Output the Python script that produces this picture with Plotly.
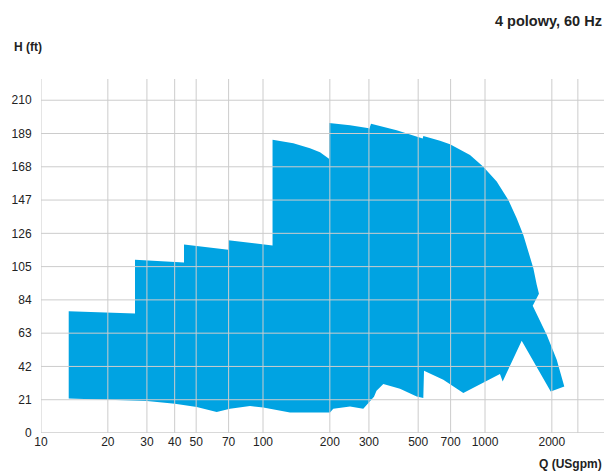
import plotly.graph_objects as go

# Outline of the performance range: upper/right edge (left to right)
Q_upper = [13.33, 26.51, 26.51, 44.07, 44.07, 69.8, 69.8, 110.4, 110.4, 136.9, 162.8, 180.6,
           198.3, 198.3, 246.6, 300.3, 300.3, 306.6, 400, 524, 527.4, 627, 695.6, 855.8,
           982.4, 1129, 1274, 1389, 1488, 1567, 1651, 1710, 1750, 1640, 1896, 2104, 2276]
H_upper = [76.9, 75.4, 109.3, 107.6, 118.9, 115.6, 121.7, 118.3, 185.0, 182.9, 179.7, 177.2,
           173.0, 195.7, 194.2, 192.3, 191.6, 195.2, 191.1, 185.8, 187.5, 184.5, 182.2, 175.5,
           168.1, 158.7, 147.1, 135.6, 125.0, 114.5, 104.0, 93.5, 87.8, 80.3, 62.0, 46.2, 29.3]
# lower edge (left to right)
Q_lower = [13.33, 20.1, 30.0, 40.1, 50.3, 61.85, 71.0, 87.4, 100.3, 132.3, 200.3, 207.3,
           246.6, 282.9, 316.2, 324.6, 348.3, 414, 492.4, 527.4, 531.2, 649, 798.6, 1168,
           1201, 1463, 1977]
H_lower = [21.8, 21.2, 20.2, 18.5, 16.4, 13.2, 15.3, 17.0, 16.1, 13.0, 13.0, 15.3,
           16.8, 15.3, 22.9, 26.7, 30.9, 28.0, 23.1, 22.1, 39.3, 33.6, 25.2, 37.2,
           32.5, 58.2, 26.2]

x_ticks = [10, 20, 30, 40, 50, 70, 100, 200, 300, 500, 700, 1000, 2000]
x_extra_grid = [2620]
y_ticks = [0, 21, 42, 63, 84, 105, 126, 147, 168, 189, 210]

title_text = "4 polowy, 60 Hz"
y_title = "H (ft)"
x_title = "Q (USgpm)"

BLUE = "rgb(0,163,226)"
GRID = "rgb(204,204,204)"
FONT = "Liberation Sans, Arial, sans-serif"
Y_TOP = 223.4
X_RANGE = [1, 3.536]

W, H = 606, 472
L, R, T, B = 41, 2, 79, 472 - 433.3
PW, PH = W - L - R, H - T - B


def px_x(page_x):
    return (page_x - L) / PW


def px_y(page_y):
    return (H - B - page_y) / PH


poly_x = Q_upper + Q_lower[::-1]
poly_y = H_upper + H_lower[::-1]

fig = go.Figure()
fig.add_trace(go.Scatter(x=poly_x, y=poly_y, fill="toself", fillcolor=BLUE,
                         mode="lines", line=dict(width=0, color=BLUE),
                         hoverinfo="skip", showlegend=False))

shapes = []
for v in x_ticks + x_extra_grid:
    shapes.append(dict(type="line", xref="x", yref="y", x0=v, x1=v, y0=0, y1=Y_TOP,
                       line=dict(color=GRID, width=1), layer="above"))
for v in y_ticks[1:]:
    shapes.append(dict(type="line", xref="paper", yref="y", x0=0, x1=1, y0=v, y1=v,
                       line=dict(color=GRID, width=1), layer="above"))
shapes.append(dict(type="line", xref="paper", yref="y", x0=0, x1=1, y0=0, y1=0,
                   line=dict(color=GRID, width=1.5), layer="above"))

fig.update_layout(
    width=W, height=H,
    margin=dict(l=L, r=R, t=T, b=B, autoexpand=False),
    paper_bgcolor="white", plot_bgcolor="white",
    font=dict(family=FONT, size=12, color="#222222"),
    shapes=shapes,
    showlegend=False,
    xaxis=dict(type="log", range=X_RANGE, tickvals=x_ticks,
               ticktext=[str(v) for v in x_ticks], showgrid=False, zeroline=False,
               showline=False, ticks="", tickfont=dict(size=12, color="#222222"),
               fixedrange=True, automargin=False),
    yaxis=dict(range=[0, Y_TOP], tickvals=y_ticks, showgrid=False, zeroline=False,
               showline=False, ticks="outside", ticklen=6, tickcolor="rgba(0,0,0,0)",
               tickfont=dict(size=12, color="#222222"), fixedrange=True, automargin=False),
    annotations=[
        dict(text="<b>" + title_text + "</b>", xref="paper", yref="paper",
             x=px_x(604), y=px_y(21), xanchor="right", yanchor="middle",
             showarrow=False, font=dict(size=14.5, color="#222222")),
        dict(text="<b>" + y_title + "</b>", xref="paper", yref="paper",
             x=px_x(12), y=px_y(47), xanchor="left", yanchor="middle",
             showarrow=False, font=dict(size=12, color="#222222")),
        dict(text="<b>" + x_title + "</b>", xref="paper", yref="paper",
             x=px_x(604), y=px_y(464), xanchor="right", yanchor="middle",
             showarrow=False, font=dict(size=12, color="#222222")),
    ],
)

fig.write_html(
    "out.html",
    config={"displayModeBar": False},
    post_script="document.body.style.margin='0';document.body.style.overflow='hidden';",
)
